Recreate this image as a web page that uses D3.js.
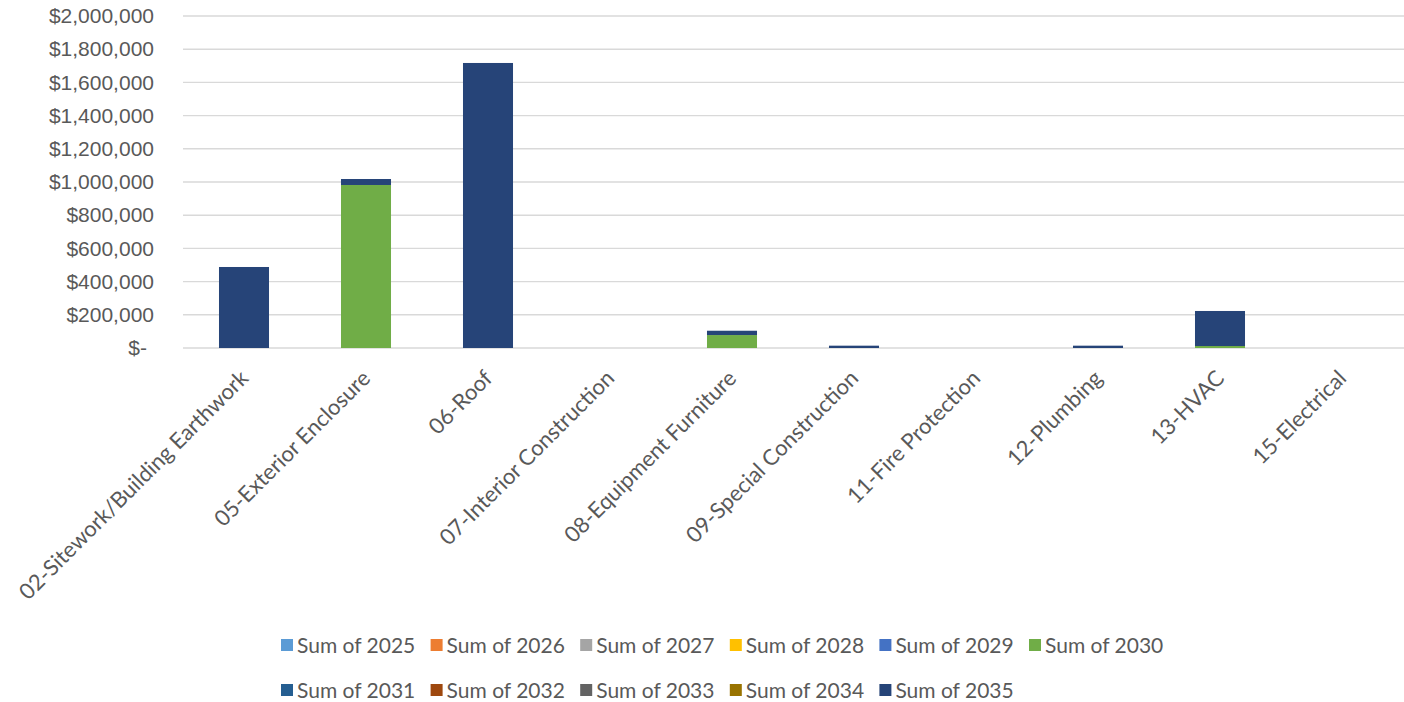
<!DOCTYPE html>
<html>
<head>
<meta charset="utf-8">
<script src="https://cdn.jsdelivr.net/npm/d3@7"></script>
<style>
  body { margin: 0; background: #fff; }
  svg { display: block; font-family: Lato, "Open Sans", sans-serif; }
  .axis text { fill: #595959; font-size: 21px; }
  .axis path, .axis line { display: none; }
  .grid line { stroke: #d9d9d9; stroke-width: 1.4; }
  .catLabel { fill: #595959; font-size: 22px; }
  .legend text { fill: #595959; font-size: 21px; }
</style>
</head>
<body>
<svg width="1404" height="702"></svg>
<script>
var svg = d3.select('svg');

// categories on the x axis
var categories = ['02-Sitework/Building Earthwork', '05-Exterior Enclosure', '06-Roof',
   '07-Interior Construction', '08-Equipment Furniture', '09-Special Construction',
   '11-Fire Protection', '12-Plumbing', '13-HVAC', '15-Electrical'];

// series (years) and colours
var years = ['2025', '2026', '2027', '2028', '2029', '2030', '2031', '2032', '2033', '2034', '2035'];
var colors = ['#5b9bd5', '#ed7d31', '#a5a5a5', '#ffc000', '#4472c4', '#70ad47',
   '#255e91', '#9e480e', '#636363', '#997300', '#264478'];

// values per series, one per category
var sum2025 = [0, 0, 0, 0, 0, 0, 0, 0, 0, 0];
var sum2026 = [0, 0, 0, 0, 0, 0, 0, 0, 0, 0];
var sum2027 = [0, 0, 0, 0, 0, 0, 0, 0, 0, 0];
var sum2028 = [0, 0, 0, 0, 0, 0, 0, 0, 0, 0];
var sum2029 = [0, 0, 0, 0, 0, 0, 0, 0, 0, 0];
var sum2030 = [0, 982000, 0, 0, 78000, 0, 0, 0, 12000, 0];
var sum2031 = [0, 0, 0, 0, 0, 0, 0, 0, 0, 0];
var sum2032 = [0, 0, 0, 0, 0, 0, 0, 0, 0, 0];
var sum2033 = [0, 0, 0, 0, 0, 0, 0, 0, 0, 0];
var sum2034 = [0, 0, 0, 0, 0, 0, 0, 0, 0, 0];
var sum2035 = [488000, 36000, 1717000, 0, 26000, 14000, 0, 14000, 211000, 0];

var seriesValues = [sum2025, sum2026, sum2027, sum2028, sum2029, sum2030,
   sum2031, sum2032, sum2033, sum2034, sum2035];

// y tick values
var yTicks = [0, 200000, 400000, 600000, 800000, 1000000, 1200000, 1400000, 1600000, 1800000, 2000000];

// build table for the stack
var table = categories.map(function(c, i) {
   var row = { category: c };
   years.forEach(function(y, j) { row[y] = seriesValues[j][i]; });
   return row;
});

var xScale = d3.scaleBand()
   .domain(categories)
   .range([183, 1403])
   .paddingInner(0.59)
   .paddingOuter(0.295);

var yScale = d3.scaleLinear()
   .domain([0, 2000000])
   .range([348, 16]);

var colorScale = d3.scaleOrdinal().domain(years).range(colors);

// gridlines
svg.append('g')
   .attr('class', 'grid')
   .selectAll('line')
   .data(yTicks)
   .enter()
   .append('line')
   .attr('x1', 183)
   .attr('x2', 1404)
   .attr('y1', function(d) { return yScale(d); })
   .attr('y2', function(d) { return yScale(d); });

// stacked bars
var stacked = d3.stack().keys(years)(table);

svg.selectAll('.series')
   .data(stacked)
   .enter()
   .append('g')
   .attr('class', 'series')
   .style('fill', function(d) { return colorScale(d.key); })
   .selectAll('rect')
   .data(function(d) { return d; })
   .enter()
   .append('rect')
   .attr('x', function(d) { return xScale(d.data.category); })
   .attr('width', xScale.bandwidth())
   .attr('y', function(d) { return yScale(d[1]); })
   .attr('height', function(d) { return yScale(d[0]) - yScale(d[1]); });

// y axis labels
var yAxis = svg.append('g')
   .attr('class', 'y axis')
   .attr('transform', 'translate(164,0)')
   .call(d3.axisLeft(yScale)
      .tickValues(yTicks)
      .tickSize(0)
      .tickPadding(10)
      .tickFormat(function(d) { return d === 0 ? '$-' : '$' + d3.format(',')(d); }));

yAxis.selectAll('text')
   .attr('dx', function(d) { return d === 0 ? -7 : 0; });

// category labels, rotated
svg.append('g')
   .selectAll('text')
   .data(categories)
   .enter()
   .append('text')
   .attr('class', 'catLabel')
   .attr('text-anchor', 'end')
   .attr('transform', function(d) {
      return 'translate(' + (xScale(d) + xScale.bandwidth() / 2 - 6) + ',368)rotate(-45)';
   })
   .attr('dy', '0.75em')
   .text(function(d) { return d; });

// legend in two rows
var legend = svg.append('g').attr('class', 'legend');
var item = legend.selectAll('.item')
   .data(years)
   .enter()
   .append('g')
   .attr('class', 'item')
   .attr('transform', function(d, i) {
      var col = i % 6, row = Math.floor(i / 6);
      return 'translate(' + (281 + col * 149.6) + ',' + (645 + row * 45) + ')';
   });

item.append('rect')
   .attr('x', 0)
   .attr('y', -6)
   .attr('width', 12)
   .attr('height', 12)
   .style('fill', function(d) { return colorScale(d); });

item.append('text')
   .attr('x', 16)
   .attr('dy', '0.36em')
   .text(function(d) { return 'Sum of ' + d; });
</script>
</body>
</html>
